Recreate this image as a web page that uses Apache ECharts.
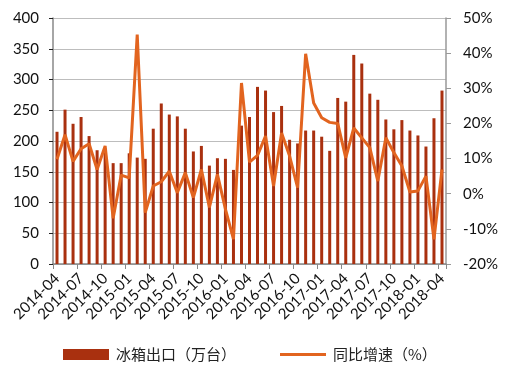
<!DOCTYPE html>
<html>
<head>
<meta charset="utf-8">
<script src="https://cdn.jsdelivr.net/npm/echarts@6/dist/echarts.min.js"></script>
<style>
html,body{margin:0;padding:0;background:#fff;}
#c{width:515px;height:372px;}
</style>
</head>
<body>
<div id="c"></div>
<script>
const categories = ["2014-04","2014-05","2014-06","2014-07","2014-08","2014-09","2014-10","2014-11","2014-12",
"2015-01","2015-02","2015-03","2015-04","2015-05","2015-06","2015-07","2015-08","2015-09","2015-10","2015-11","2015-12",
"2016-01","2016-02","2016-03","2016-04","2016-05","2016-06","2016-07","2016-08","2016-09","2016-10","2016-11","2016-12",
"2017-01","2017-02","2017-03","2017-04","2017-05","2017-06","2017-07","2017-08","2017-09","2017-10","2017-11","2017-12",
"2018-01","2018-02","2018-03","2018-04"];
const exportVolume = [215,251,228,239,208,185,188,164,164,
180,173,171,220,261,243,240,220,183,192,160,172,
171,153,225,239,288,282,247,257,202,196,217,217,
207,184,270,264,340,326,277,267,235,219,234,217,
209,191,237,282];
const yoyGrowth = [9.8,16.8,9.2,12.8,14.2,6.9,13.6,-7.0,5.3,
4.5,45.3,-5.4,2.2,3.4,6.4,0.3,6.0,-1.1,6.9,-3.9,5.5,
-4.4,-12.9,31.5,9.0,10.9,16.4,2.2,17.3,10.7,1.7,39.8,25.8,
21.6,20.3,20.0,10.2,18.7,15.9,13.1,3.6,15.9,11.7,7.9,0.5,
0.8,5.0,-13.0,6.9];
const leftTicks = {min:0, max:400, interval:50};
const rightTicks = {min:-20, max:50, interval:10};
const seriesNames = ["冰箱出口（万台）","同比增速（%）"];

const FONT = "Lato, 'Noto Sans CJK SC', sans-serif";
const chart = echarts.init(document.getElementById('c'), null, {renderer:'canvas'});
chart.setOption({
  animation:false,
  backgroundColor:'#fff',
  grid:{left:53, right:69, top:18, bottom:108, containLabel:false},
  legend:{
    left:58, top:342, itemGap:44, itemWidth:46, itemHeight:11,
    textStyle:{fontFamily:"'Noto Sans CJK SC', sans-serif", fontSize:15, color:'#222', padding:[0,0,0,2]},
    data:[{name:seriesNames[0], icon:'rect'},{name:seriesNames[1], icon:'path://M0 0H48V3H0Z'}]
  },
  xAxis:{
    type:'category', data:categories, boundaryGap:true,
    axisLine:{lineStyle:{color:'#888', width:1.5}},
    axisTick:{show:true, interval:2, length:5, lineStyle:{color:'#888'}},
    axisLabel:{interval:2, rotate:45, fontFamily:FONT, fontSize:15, color:'#111', margin:12}
  },
  yAxis:[{
    type:'value', min:leftTicks.min, max:leftTicks.max, interval:leftTicks.interval,
    axisLine:{show:true, lineStyle:{color:'#888', width:1.5}},
    axisTick:{show:true, length:4, lineStyle:{color:'#222'}},
    axisLabel:{fontFamily:FONT, fontSize:15, color:'#111', margin:14},
    splitLine:{lineStyle:{color:'#bdbdbd', width:1.2}}
  },{
    type:'value', min:rightTicks.min, max:rightTicks.max, interval:rightTicks.interval,
    axisLine:{show:true, lineStyle:{color:'#999', width:1.5}},
    axisTick:{show:true, length:5, lineStyle:{color:'#999'}},
    axisLabel:{fontFamily:FONT, fontSize:15, color:'#111', margin:17, formatter:'{value}%'},
    splitLine:{show:false}
  }],
  series:[{
    name:seriesNames[0], type:'bar', data:exportVolume, barWidth:3,
    itemStyle:{color:'#a9300f'}
  },{
    name:seriesNames[1], type:'line', yAxisIndex:1, data:yoyGrowth,
    symbol:'none', lineStyle:{color:'#e2641f', width:3}, itemStyle:{color:'#e2641f'}
  }]
});
</script>
</body>
</html>
